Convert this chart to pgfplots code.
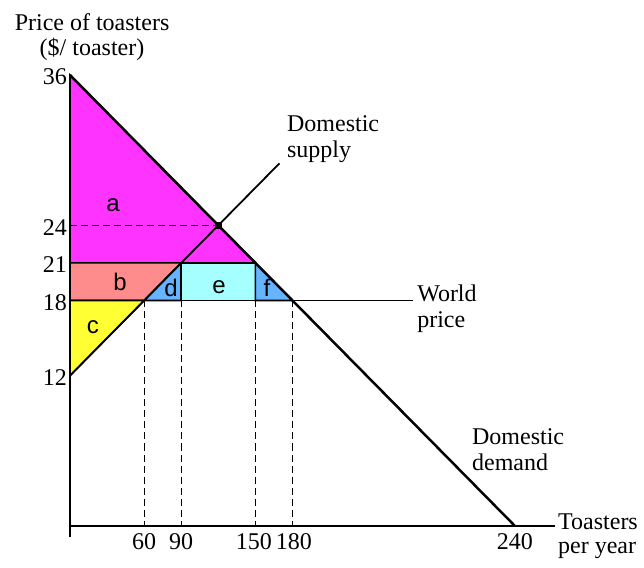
\documentclass[border=0pt]{standalone}
\usepackage{pgfplots}
\pgfplotsset{compat=1.18}
\usepackage{fontspec}
\setmainfont{Liberation Serif}
\newfontfamily\arialf{Liberation Sans}
\definecolor{magc}{RGB}{255,51,255}
\definecolor{salc}{RGB}{255,140,140}
\definecolor{yelc}{RGB}{255,255,51}
\definecolor{bluc}{RGB}{102,179,255}
\definecolor{cyac}{RGB}{166,255,255}
\begin{document}
\begin{tikzpicture}
\path[use as bounding box] (-70pt,-41pt) rectangle (574pt,526pt);
\begin{axis}[
  at={(0pt,0pt)}, anchor=south west,
  scale only axis, width=485pt, height=451pt,
  xmin=0, xmax=261.6, ymin=0, ymax=36,
  clip=false,
  axis line style={draw=none},
  major tick length=0pt,
  tick style={draw=none},
  xtick={40,60,100,120,240},
  xticklabels={60,90,\hspace*{-3pt}150,\hspace*{3pt}180,240},
  ytick={12,18,21,24,36},
  yticklabels={12,18,21,24,\raisebox{-6pt}{36}},
  tick label style={font=\fontsize{24}{24}\selectfont},
  xticklabel style={inner sep=0pt, anchor=north, yshift=-7pt},
  yticklabel style={inner sep=0pt, anchor=east, xshift=-3pt, yshift=-2pt},
]
% shaded areas
\addplot[fill=magc, draw=black, line width=1.6pt] coordinates {(0,36) (100,21) (0,21)} -- cycle;
\addplot[fill=salc, draw=black, line width=1.6pt] coordinates {(0,21) (60,21) (40,18) (0,18)} -- cycle;
\addplot[fill=yelc, draw=black, line width=1.6pt] coordinates {(0,18) (40,18) (0,12)} -- cycle;
\addplot[fill=bluc, draw=black, line width=1.6pt] coordinates {(40,18) (60,21) (60,18)} -- cycle;
\addplot[fill=cyac, draw=black, line width=1.6pt] coordinates {(60,18) (100,18) (100,21) (60,21)} -- cycle;
\addplot[fill=bluc, draw=black, line width=1.6pt] coordinates {(100,18) (100,21) (120,18)} -- cycle;
% dashed guides
\addplot[black, line width=0.8pt, dash pattern=on 7pt off 4pt] coordinates {(0,24) (80,24)};
\addplot[black, line width=0.8pt, dash pattern=on 7pt off 4pt] coordinates {(40,18) (40,0)};
\addplot[black, line width=0.8pt, dash pattern=on 7pt off 4pt] coordinates {(60,18) (60,0)};
\addplot[black, line width=0.8pt, dash pattern=on 7pt off 4pt] coordinates {(100,18) (100,0)};
\addplot[black, line width=0.8pt, dash pattern=on 7pt off 4pt] coordinates {(120,18) (120,0)};
% world price
\addplot[black, line width=1.5pt] coordinates {(0,18) (185,18)};
% supply and demand
\addplot[black, line width=1.8pt] coordinates {(0,12) (113,28.95)};
\addplot[black, line width=2.5pt] coordinates {(0,36) (240,0)};
% axes
\addplot[black, line width=2pt] coordinates {(0,-0.9) (0,36)};
\addplot[black, line width=2pt] coordinates {(0,0) (261.6,0)};
% equilibrium point
\addplot[only marks, mark=square*, mark size=3pt, black] coordinates {(80,24)};
% region letters
\node[font=\arialf\fontsize{24}{24}\selectfont, inner sep=0pt] at (axis cs:23.2,25.6) {a};
\node[font=\arialf\fontsize{24}{24}\selectfont, inner sep=0pt] at (axis cs:27,19.5) {b};
\node[font=\arialf\fontsize{24}{24}\selectfont, inner sep=0pt] at (axis cs:12.4,15.9) {c};
\node[font=\arialf\fontsize{24}{24}\selectfont, inner sep=0pt] at (axis cs:54.5,19.0) {d};
\node[font=\arialf\fontsize{24}{24}\selectfont, inner sep=0pt] at (axis cs:80.4,19.1) {e};
\node[font=\arialf\fontsize{24}{24}\selectfont, inner sep=0pt] at (axis cs:106.3,19.0) {f};
% labels
\node[font=\fontsize{24}{26}\selectfont, inner sep=0pt, align=left, anchor=north west] at (axis cs:117,32.8) {Domestic\\supply};
\node[font=\fontsize{24}{26}\selectfont, inner sep=0pt, align=left, anchor=north west] at (axis cs:187.2,19.23) {World\\price};
\node[font=\fontsize{24}{26}\selectfont, inner sep=0pt, align=left, anchor=north west] at (axis cs:216.8,7.8) {Domestic\\demand};
\node[font=\fontsize{24}{24}\selectfont, inner sep=0pt, align=left, anchor=north west] at (axis cs:263.2,1.0) {Toasters\\per year};
\node[font=\fontsize{24}{25}\selectfont, inner sep=0pt, align=center, anchor=north] at (axis cs:11.9,40.9) {Price of toasters\\(\$/ toaster)};
\end{axis}
\end{tikzpicture}
\end{document}
